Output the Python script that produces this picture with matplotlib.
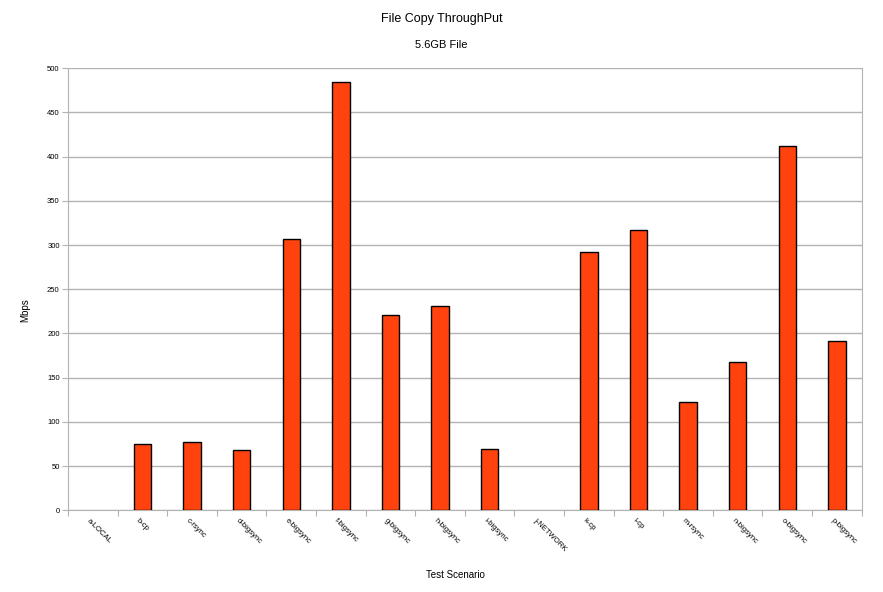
import matplotlib
matplotlib.use("Agg")
import matplotlib.pyplot as plt
import numpy as np

plt.rcParams['font.family'] = ['Liberation Sans', 'DejaVu Sans']

# data
scenarios = ["a-LOCAL", "b-cp", "c-rsync", "d-bigsync", "e-bigsync", "f-bigsync",
             "g-bigsync", "h-bigsync", "i-bigsync", "j-NETWORK", "k-cp", "l-cp",
             "m-rsync", "n-bigsync", "o-bigsync", "p-bigsync"]
mbps = [0, 75, 77, 68, 307, 484, 221, 231, 69, 0, 292, 317, 123, 168, 412, 192]
y_ticks = [0, 50, 100, 150, 200, 250, 300, 350, 400, 450, 500]

fig = plt.figure(figsize=(8.83, 5.92), dpi=100)
ax = fig.add_axes([68/883, 1 - 510.3/592, (861.7 - 68)/883, (510.3 - 68.3)/592])

x = np.arange(len(scenarios))
# empty scenarios get no outline (nothing visible in the original)
edge_w = [1.0 if v > 0 else 0.0 for v in mbps]
ax.bar(x, mbps, width=0.35, color="#ff420e", edgecolor="black", linewidth=edge_w, zorder=3)

ax.set_xlim(-0.5, len(scenarios) - 0.5)
ax.set_ylim(0, 500)
ax.set_yticks(y_ticks)
ax.set_yticklabels([str(v) for v in y_ticks], fontsize=5.5)
ax.grid(axis="y", color="#b3b3b3", linewidth=1.0, zorder=0)
ax.tick_params(axis="y", length=4, color="#b3b3b3", pad=2)

# ticks between categories, labels under the centres
ax.set_xticks(np.arange(len(scenarios) + 1) - 0.5)
ax.set_xticklabels([])
ax.tick_params(axis="x", length=4, color="#b3b3b3")
for i, name in enumerate(scenarios):
    ax.text(i - 0.05, -8, name, rotation=-45, ha="left", va="top",
            rotation_mode="anchor", fontsize=5.5)

for side in ["left", "right", "bottom", "top"]:
    ax.spines[side].set_color("#b3b3b3")
ax.spines["top"].set_visible(False)

fig.text(0.5, 1 - 19/592, "File Copy ThroughPut", ha="center", va="center", fontsize=9)
fig.text(0.5, 1 - 45.5/592, "5.6GB File", ha="center", va="center", fontsize=8)
fig.text(455/883, 1 - 575/592, "Test Scenario", ha="center", va="center", fontsize=7)
fig.text(25/883, 1 - 310/592, "Mbps", ha="center", va="center", rotation=90, fontsize=7)

fig.savefig("out.png", dpi=100)
